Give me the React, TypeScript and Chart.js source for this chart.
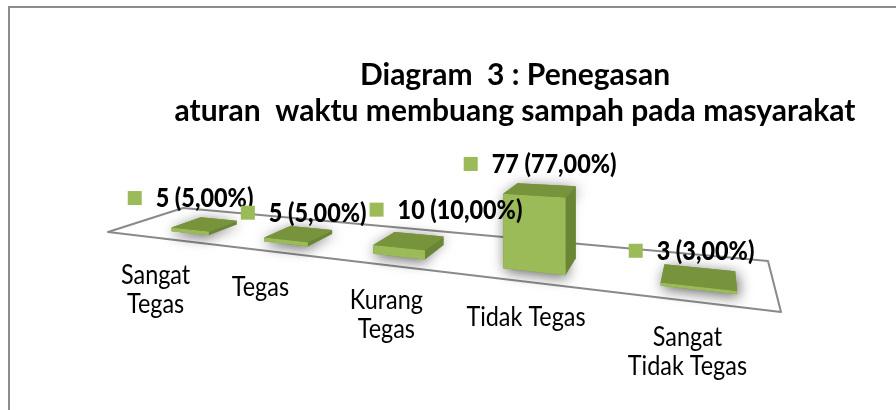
import React, { useEffect, useRef } from "react";
import { Chart, registerables } from "chart.js";

Chart.register(...registerables);

// ---------- data ----------
const categories: (string | string[])[] = [
  ["Sangat", "Tegas"],
  "Tegas",
  ["Kurang", "Tegas"],
  "Tidak Tegas",
  ["Sangat", "Tidak Tegas"],
];
const counts = [5, 5, 10, 77, 3];
const percents = [5, 5, 10, 77, 3];
const titleLines = ["Diagram  3 : Penegasan", "aturan  waktu membuang sampah pada masyarakat"];

// ---------- layout / style ----------
const FONT = "Lato, 'Open Sans', sans-serif";
const GREEN_FRONT = "#9BBB59";
const GREEN_TOP = "#77943D";
const GREEN_SIDE = "#6A8635";
const FLOOR_CORNERS = {
  fl: { x: 108, y: 232 },
  fr: { x: 781, y: 312 },
  br: { x: 768, y: 261 },
  bl: { x: 183, y: 208 },
};
const U_START = 0.05;
const U_SPAN = 0.966;
const DEPTH_FRONT = 0.22;
const DEPTH_BACK = 0.62;
const HEIGHT_SCALE = 74.4;
const TEXT_SQUEEZE = 0.9;
const labelNudgeX = [-14, 5, 37, 0, -7];
const labelNudgeY = [0, 5, -5, 0, 0];
const catNudgeX = [-17, -10, 0, 0, -10];

type P = { x: number; y: number };

function makeProjection(p0: P, p1: P, p2: P, p3: P) {
  const dx1 = p1.x - p2.x, dx2 = p3.x - p2.x, dx3 = p0.x - p1.x + p2.x - p3.x;
  const dy1 = p1.y - p2.y, dy2 = p3.y - p2.y, dy3 = p0.y - p1.y + p2.y - p3.y;
  const den = dx1 * dy2 - dx2 * dy1;
  const g = (dx3 * dy2 - dx2 * dy3) / den;
  const h = (dx1 * dy3 - dx3 * dy1) / den;
  const a = p1.x - p0.x + g * p1.x, b = p3.x - p0.x + h * p3.x, c = p0.x;
  const d = p1.y - p0.y + g * p1.y, e = p3.y - p0.y + h * p3.y, f = p0.y;
  return (u: number, v: number, w = 0): P => {
    const q = g * u + h * v + 1;
    return { x: (a * u + b * v + c) / q, y: (d * u + e * v + f) / q - w / q };
  };
}

const project = makeProjection(FLOOR_CORNERS.fl, FLOOR_CORNERS.fr, FLOOR_CORNERS.br, FLOOR_CORNERS.bl);

function poly(ctx: CanvasRenderingContext2D, pts: P[], fill: string) {
  ctx.beginPath();
  ctx.moveTo(pts[0].x, pts[0].y);
  for (let i = 1; i < pts.length; i++) ctx.lineTo(pts[i].x, pts[i].y);
  ctx.closePath();
  ctx.fillStyle = fill;
  ctx.fill();
}

function squeezedText(ctx: CanvasRenderingContext2D, text: string, x: number, y: number) {
  ctx.save();
  ctx.translate(x, y);
  ctx.scale(TEXT_SQUEEZE, 1);
  ctx.fillText(text, 0, 0);
  ctx.restore();
}

const fmtPct = (p: number) => p.toFixed(2).replace(".", ",") + "%";

const scenePlugin = {
  id: "scene3d",
  beforeDraw(chart: any) {
    const ctx: CanvasRenderingContext2D = chart.ctx;
    ctx.save();
    ctx.fillStyle = "#ffffff";
    ctx.fillRect(0, 0, chart.width, chart.height);
    ctx.strokeStyle = "#8c8c8c";
    ctx.lineWidth = 2;
    ctx.beginPath();
    ctx.moveTo(9, chart.height);
    ctx.lineTo(9, 7);
    ctx.lineTo(chart.width, 7);
    ctx.stroke();
    ctx.restore();
  },
  afterDatasetsDraw(chart: any) {
    const ctx: CanvasRenderingContext2D = chart.ctx;
    const area = chart.chartArea;
    const meta = chart.getDatasetMeta(0);
    ctx.save();

    // floor
    const c = [project(0, 0), project(0, 1), project(1, 1), project(1, 0)];
    ctx.beginPath();
    ctx.moveTo(c[0].x, c[0].y);
    for (let i = 1; i < 4; i++) ctx.lineTo(c[i].x, c[i].y);
    ctx.closePath();
    ctx.fillStyle = "#ffffff";
    ctx.fill();
    ctx.strokeStyle = "#8a8a8a";
    ctx.lineWidth = 2;
    ctx.lineJoin = "round";
    ctx.stroke();

    const tops: P[] = [];
    const fronts: P[] = [];
    meta.data.forEach((el: any) => {
      const { x, y, base, width } = el.getProps(["x", "y", "base", "width"], true);
      const t = (x - area.left) / area.width;
      const uc = U_START + U_SPAN * t;
      const hu = ((width / 2) / area.width) * U_SPAN;
      const hw = ((base - y) / area.height) * HEIGHT_SCALE;
      const u0 = uc - hu, u1 = uc + hu;
      const v0 = DEPTH_FRONT, v1 = DEPTH_BACK;
      const b00 = project(u0, v0), b10 = project(u1, v0), b11 = project(u1, v1), b01 = project(u0, v1);
      const t00 = project(u0, v0, hw), t10 = project(u1, v0, hw), t11 = project(u1, v1, hw), t01 = project(u0, v1, hw);

      ctx.save();
      ctx.shadowColor = "rgba(0,0,0,0.6)";
      ctx.shadowBlur = 14;
      ctx.shadowOffsetX = 2;
      ctx.shadowOffsetY = 3;
      poly(ctx, [b00, b10, t10, t11, t01, t00], GREEN_TOP);
      ctx.restore();

      if (b11.x > b10.x) poly(ctx, [b10, b11, t11, t10], GREEN_SIDE);
      if (b01.x < b00.x) poly(ctx, [b00, b01, t01, t00], GREEN_SIDE);
      poly(ctx, [b00, b10, t10, t00], GREEN_FRONT);
      poly(ctx, [t00, t10, t11, t01], GREEN_TOP);

      tops.push(project(uc, (v0 + v1) / 2, hw));
      fronts.push(project(uc, 0));
    });

    // data labels
    ctx.font = `900 26px ${FONT}`;
    ctx.textBaseline = "middle";
    ctx.textAlign = "left";
    tops.forEach((p, i) => {
      const text = `${counts[i]} (${fmtPct(percents[i])})`;
      const tw = ctx.measureText(text).width * TEXT_SQUEEZE;
      const key = 14, gap = 14;
      const total = key + gap + tw;
      const cx = p.x + labelNudgeX[i];
      const cy = p.y - 26 + labelNudgeY[i];
      const left = cx - total / 2;
      ctx.fillStyle = GREEN_FRONT;
      ctx.fillRect(left, cy - key / 2, key, key);
      ctx.fillStyle = "#000000";
      squeezedText(ctx, text, left + key + gap, cy + 1);
    });

    // category labels
    ctx.font = `26px ${FONT}`;
    ctx.textAlign = "center";
    ctx.textBaseline = "top";
    ctx.fillStyle = "#000000";
    const labels = chart.data.labels as (string | string[])[];
    fronts.forEach((p, i) => {
      const lines = Array.isArray(labels[i]) ? (labels[i] as string[]) : [labels[i] as string];
      lines.forEach((ln, k) => squeezedText(ctx, ln, p.x + catNudgeX[i], p.y + 23 + k * 29));
    });

    ctx.restore();
  },
};

export default function App() {
  const ref = useRef<HTMLCanvasElement | null>(null);
  useEffect(() => {
    if (!ref.current) return;
    const chart = new Chart(ref.current, {
      type: "bar",
      data: {
        labels: categories,
        datasets: [
          {
            data: counts,
            backgroundColor: "rgba(0,0,0,0)",
            borderWidth: 0,
            barPercentage: 0.42,
            categoryPercentage: 1,
          },
        ],
      },
      options: {
        responsive: false,
        animation: false,
        devicePixelRatio: 1,
        layout: { padding: { left: 134, right: 0, top: 0, bottom: 0 } },
        plugins: {
          legend: { display: false },
          tooltip: { enabled: false },
          title: {
            display: true,
            text: titleLines,
            fullSize: false,
            color: "#000000",
            font: { family: FONT, size: 30, weight: "bold", lineHeight: 1.2 },
            padding: { top: 57, bottom: 10 },
          },
        },
        scales: {
          x: { display: false, offset: true },
          y: { display: false, min: 0, max: 100 },
        },
      },
      plugins: [scenePlugin],
    } as any);
    return () => chart.destroy();
  }, []);
  return (
    <div style={{ position: "fixed", left: 0, top: 0, width: 896, height: 410, background: "#fff" }}>
      <canvas ref={ref} width={896} height={410} style={{ display: "block" }} />
    </div>
  );
}
